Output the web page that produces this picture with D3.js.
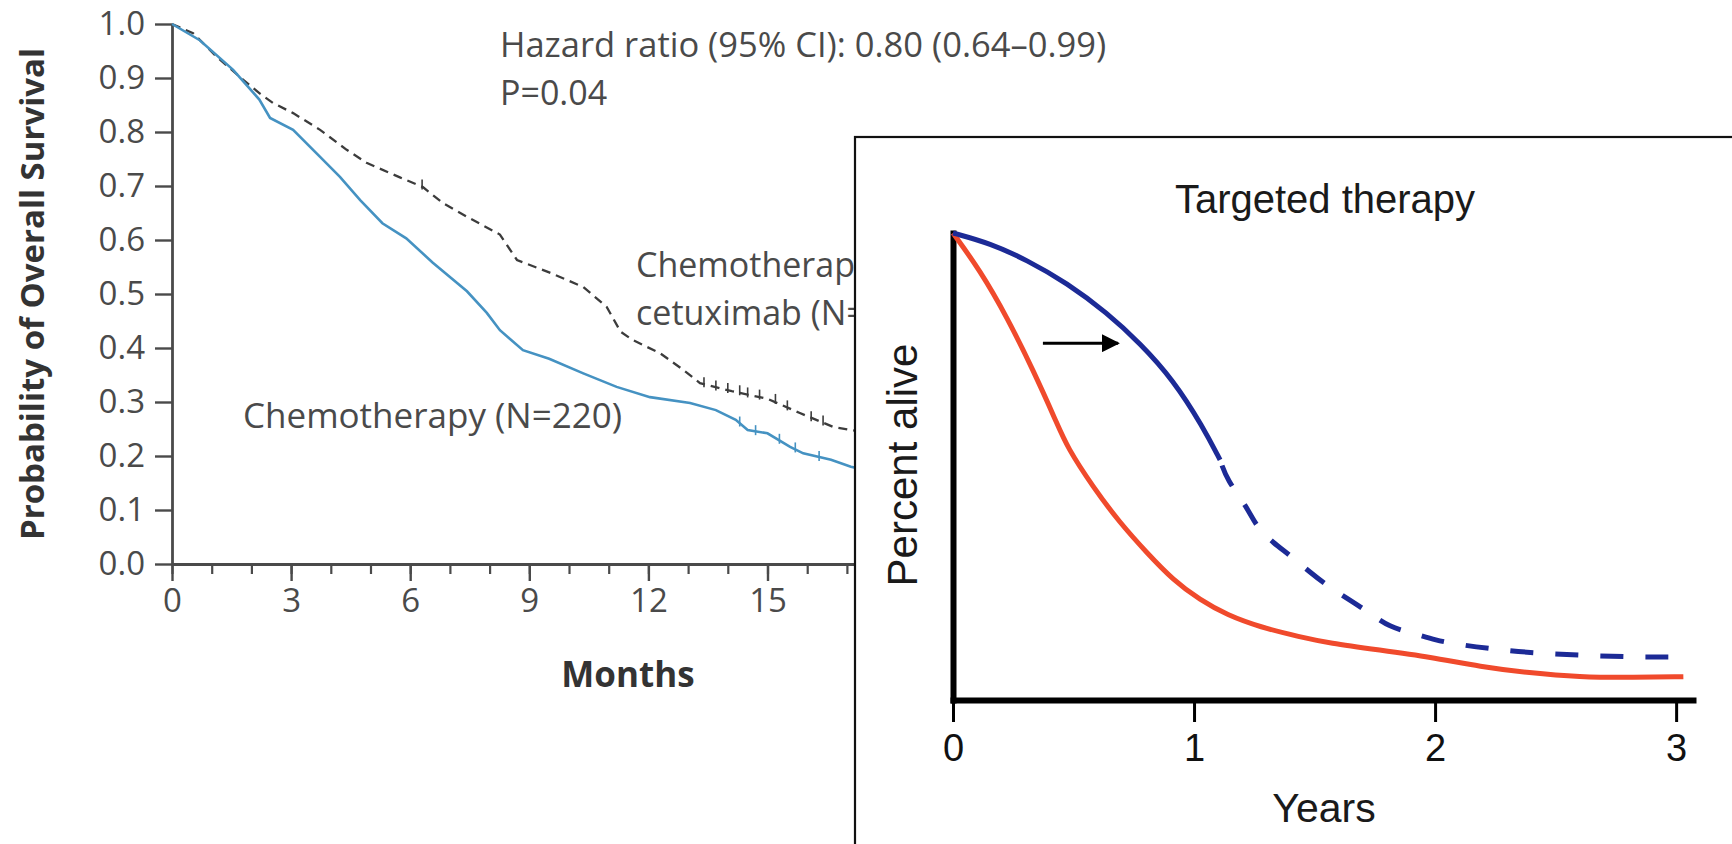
<!DOCTYPE html>
<html>
<head>
<meta charset="utf-8">
<script src="https://cdn.jsdelivr.net/npm/d3@7"></script>
<style>
body{margin:0;background:#fff;overflow:hidden;}
svg{display:block;}
</style>
</head>
<body>
<script>
// ---- left chart: Kaplan-Meier, months vs probability ----
var monthTicks=[0,3,6,9,12,15,18,21,24];
var monthMinor=d3.range(0,25,1);
var probTicks=[0,0.1,0.2,0.3,0.4,0.5,0.6,0.7,0.8,0.9,1.0];

// chemotherapy (N=220), [month, survival]
var chemo=[[0,1],[0.7,0.97],[1.54,0.915],[2.2,0.86],[2.47,0.826],[3.05,0.804],[3.73,0.754],[4.23,0.717],
    [4.74,0.674],[5.3,0.631],[5.9,0.603],[6.57,0.558],[7.43,0.505],[7.93,0.465],[8.26,0.433],[8.84,0.396],
    [9.5,0.38],[10.36,0.353],[11.2,0.328],[12.04,0.309],[13.05,0.298],[13.7,0.285],[14.2,0.267],[14.5,0.248],
    [15.0,0.242],[15.57,0.217],[15.9,0.205],[16.6,0.193],[17.1,0.18],[17.6,0.172]];
// chemotherapy plus cetuximab (N=222)
var chemoCetux=[[0,1],[0.53,0.983],[1.13,0.939],[1.71,0.902],[2.2,0.872],[2.54,0.854],[3.05,0.835],[3.73,0.804],
    [4.4,0.767],[4.9,0.743],[5.74,0.716],[6.32,0.698],[6.83,0.668],[7.43,0.643],[8.26,0.61],[8.69,0.563],
    [9.5,0.54],[10.36,0.513],[10.95,0.476],[11.3,0.43],[11.6,0.415],[12.3,0.39],[12.87,0.36],[13.3,0.335],
    [14.1,0.32],[15.0,0.306],[15.8,0.28],[16.65,0.254],[17.1,0.248],[17.6,0.243]];
// censoring marks
var chemoCensor=[[14.3,0.262],[14.7,0.246],[15.3,0.23],[15.7,0.214],[16.3,0.198]];
var cetuxCensor=[[6.3,0.699],[13.4,0.333],[13.7,0.327],[14.0,0.322],[14.3,0.318],[14.5,0.314],[14.8,0.31],
    [15.2,0.302],[15.5,0.29],[16.1,0.27],[16.4,0.262]];

// ---- inset: targeted therapy, years vs percent alive ----
var yearTicks=[0,1,2,3];
var redCurve=[[0,100],[0.112,92],[0.224,82],[0.332,70.7],[0.431,59.3],[0.473,54.2],[0.581,45.6],[0.693,37.9],
    [0.805,31.5],[0.913,25.7],[1.025,21.4],[1.137,18.2],[1.274,15.6],[1.44,13.5],[1.56,12.2],[1.77,10.7],
    [1.98,9.2],[2.19,7.1],[2.39,5.8],[2.6,4.9],[2.81,4.8],[3.03,5.0]];
var blueSolid=[[0,100],[0.154,97.8],[0.307,94.2],[0.473,89.3],[0.639,82.9],[0.776,76.4],[0.913,68.6],
    [1.037,58.5],[1.108,51.4]];
var blueDashed=[[1.108,51.4],[1.137,47.1],[1.22,41.3],[1.26,37],[1.33,33.6],[1.398,31.0],[1.48,27.4],
    [1.56,24.2],[1.647,21.4],[1.73,18.6],[1.81,15.6],[1.91,14.3],[2.0,12.8],[2.11,11.8],[2.21,11.1],
    [2.39,10.1],[2.6,9.6],[2.81,9.2],[3.0,9.2]];
var arrowPts=[[0.373,76.4],[0.685,76.4]];

var W=1732,H=844;
var svg=d3.select('body').append('svg').attr('width',W).attr('height',H);

var leftFont='"Open Sans", Lato, sans-serif';
var grey='#4a4a4a';

var xL=d3.scaleLinear().domain([0,24]).range([172,172+24*39.7]);
var yL=d3.scaleLinear().domain([0,1]).range([564,24]);

var left=svg.append('g').attr('class','km');

// minor month ticks
left.append('g')
    .attr('transform','translate(0,'+yL(0)+')')
    .call(d3.axisBottom(xL).tickValues(monthMinor).tickSize(10).tickFormat(''))
    .call(function(g){g.select('.domain').remove();})
    .selectAll('line').attr('stroke',grey).attr('stroke-width',2.2);

var xAxisL=left.append('g')
    .attr('transform','translate(0,'+yL(0)+')')
    .call(d3.axisBottom(xL).tickValues(monthTicks).tickSize(17).tickSizeOuter(0).tickPadding(8));
xAxisL.select('.domain').attr('stroke',grey).attr('stroke-width',2.8);
xAxisL.selectAll('line').attr('stroke',grey).attr('stroke-width',2.4);
xAxisL.selectAll('text').attr('fill',grey).style('font-family',leftFont).style('font-size','33px');

var yAxisL=left.append('g')
    .attr('transform','translate('+xL(0)+',0)')
    .call(d3.axisLeft(yL).tickValues(probTicks).tickFormat(d3.format('.1f')).tickSize(17).tickSizeOuter(0).tickPadding(10));
yAxisL.select('.domain').attr('stroke',grey).attr('stroke-width',2.8);
yAxisL.selectAll('line').attr('stroke',grey).attr('stroke-width',2.4);
yAxisL.selectAll('text').attr('fill',grey).style('font-family',leftFont).style('font-size','33px');

left.append('text')
    .attr('transform','translate(44,'+yL(0.5)+') rotate(-90)')
    .attr('text-anchor','middle')
    .style('font-family',leftFont).style('font-size','33px').style('font-weight','bold')
    .attr('fill','#333')
    .text('Probability of Overall Survival');

left.append('text')
    .attr('x',628).attr('y',687)
    .attr('text-anchor','middle')
    .style('font-family',leftFont).style('font-size','35px').style('font-weight','bold')
    .attr('fill','#333')
    .text('Months');

var kmLine=d3.line().x(function(d){return xL(d[0]);}).y(function(d){return yL(d[1]);});

left.append('path').datum(chemoCetux)
    .attr('d',kmLine).attr('fill','none')
    .attr('stroke','#3c3c3c').attr('stroke-width',2.3).attr('stroke-dasharray','9,6');
left.append('path').datum(chemo)
    .attr('d',kmLine).attr('fill','none')
    .attr('stroke','#4592c2').attr('stroke-width',2.6);

left.selectAll('.c1').data(chemoCensor).enter().append('line')
    .attr('x1',function(d){return xL(d[0]);}).attr('x2',function(d){return xL(d[0]);})
    .attr('y1',function(d){return yL(d[1])-6;}).attr('y2',function(d){return yL(d[1])+4;})
    .attr('stroke','#4592c2').attr('stroke-width',1.6);
left.selectAll('.c2').data(cetuxCensor).enter().append('line')
    .attr('x1',function(d){return xL(d[0]);}).attr('x2',function(d){return xL(d[0]);})
    .attr('y1',function(d){return yL(d[1])-7;}).attr('y2',function(d){return yL(d[1])+3;})
    .attr('stroke','#3c3c3c').attr('stroke-width',1.6);

left.append('text')
    .attr('x',500).attr('y',57)
    .style('font-family',leftFont).style('font-size','34.5px').attr('fill',grey)
    .text('Hazard ratio (95% CI): 0.80 (0.64\u20130.99)');
left.append('text')
    .attr('x',500).attr('y',105)
    .style('font-family',leftFont).style('font-size','34px').attr('fill',grey)
    .text('P=0.04');

left.append('text')
    .attr('x',636).attr('y',277)
    .style('font-family',leftFont).style('font-size','34px').attr('fill',grey)
    .text('Chemotherapy plus');
left.append('text')
    .attr('x',636).attr('y',325)
    .style('font-family',leftFont).style('font-size','34px').attr('fill',grey)
    .text('cetuximab (N=222)');

left.append('text')
    .attr('x',243).attr('y',428)
    .style('font-family',leftFont).style('font-size','35px').attr('fill',grey)
    .text('Chemotherapy (N=220)');

// ---- inset panel ----
var inset=svg.append('g').attr('class','inset');
inset.append('rect')
    .attr('x',855).attr('y',137).attr('width',1000).attr('height',800)
    .attr('fill','#fff').attr('stroke','#111').attr('stroke-width',2.2);

var rightFont='"Liberation Sans", Arial, sans-serif';
var xR=d3.scaleLinear().domain([0,3.07]).range([953,1693]);
var yR=d3.scaleLinear().domain([0,100]).range([700,233]);

var xAxisR=inset.append('g')
    .attr('transform','translate(0,'+yR(0)+')')
    .call(d3.axisBottom(xR).tickValues(yearTicks).tickFormat(d3.format('d')).tickSize(22).tickSizeOuter(0).tickPadding(12));
xAxisR.select('.domain').attr('stroke','#000').attr('stroke-width',6).attr('stroke-linecap','square');
xAxisR.selectAll('line').attr('stroke','#000').attr('stroke-width',3);
xAxisR.selectAll('text').attr('fill','#111').style('font-family',rightFont).style('font-size','38px');

var yAxisR=inset.append('g')
    .attr('transform','translate('+xR(0)+',0)')
    .call(d3.axisLeft(yR).tickValues([]).tickSizeOuter(0));
yAxisR.select('.domain').attr('stroke','#000').attr('stroke-width',6).attr('stroke-linecap','square');

var smooth=d3.line().curve(d3.curveBasis)
    .x(function(d){return xR(d[0]);}).y(function(d){return yR(d[1]);});

inset.append('path').datum(redCurve).attr('d',smooth)
    .attr('fill','none').attr('stroke','#f04a2c').attr('stroke-width',5);
inset.append('path').datum(blueSolid).attr('d',smooth)
    .attr('fill','none').attr('stroke','#1c2a96').attr('stroke-width',5);
inset.append('path').datum(blueDashed).attr('d',smooth)
    .attr('fill','none').attr('stroke','#1c2a96').attr('stroke-width',5).attr('stroke-dasharray','23,22')
    .attr('stroke-dashoffset',-6);

svg.append('defs').append('marker')
    .attr('id','head').attr('viewBox','0 0 10 10').attr('refX',9).attr('refY',5)
    .attr('markerWidth',6).attr('markerHeight',6).attr('orient','auto')
    .append('path').attr('d','M0,0L10,5L0,10Z').attr('fill','#000');
inset.append('line')
    .attr('x1',xR(arrowPts[0][0])).attr('y1',yR(arrowPts[0][1]))
    .attr('x2',xR(arrowPts[1][0])).attr('y2',yR(arrowPts[1][1]))
    .attr('stroke','#000').attr('stroke-width',3).attr('marker-end','url(#head)');

inset.append('text')
    .attr('x',1325).attr('y',213).attr('text-anchor','middle')
    .style('font-family',rightFont).style('font-size','40px').attr('fill','#1a1a1a')
    .text('Targeted therapy');

inset.append('text')
    .attr('transform','translate(917,465) rotate(-90)')
    .attr('text-anchor','middle')
    .style('font-family',rightFont).style('font-size','42px').attr('fill','#1a1a1a')
    .text('Percent alive');

inset.append('text')
    .attr('x',1324).attr('y',822).attr('text-anchor','middle')
    .style('font-family',rightFont).style('font-size','41px').attr('fill','#1a1a1a')
    .text('Years');
</script>
</body>
</html>
